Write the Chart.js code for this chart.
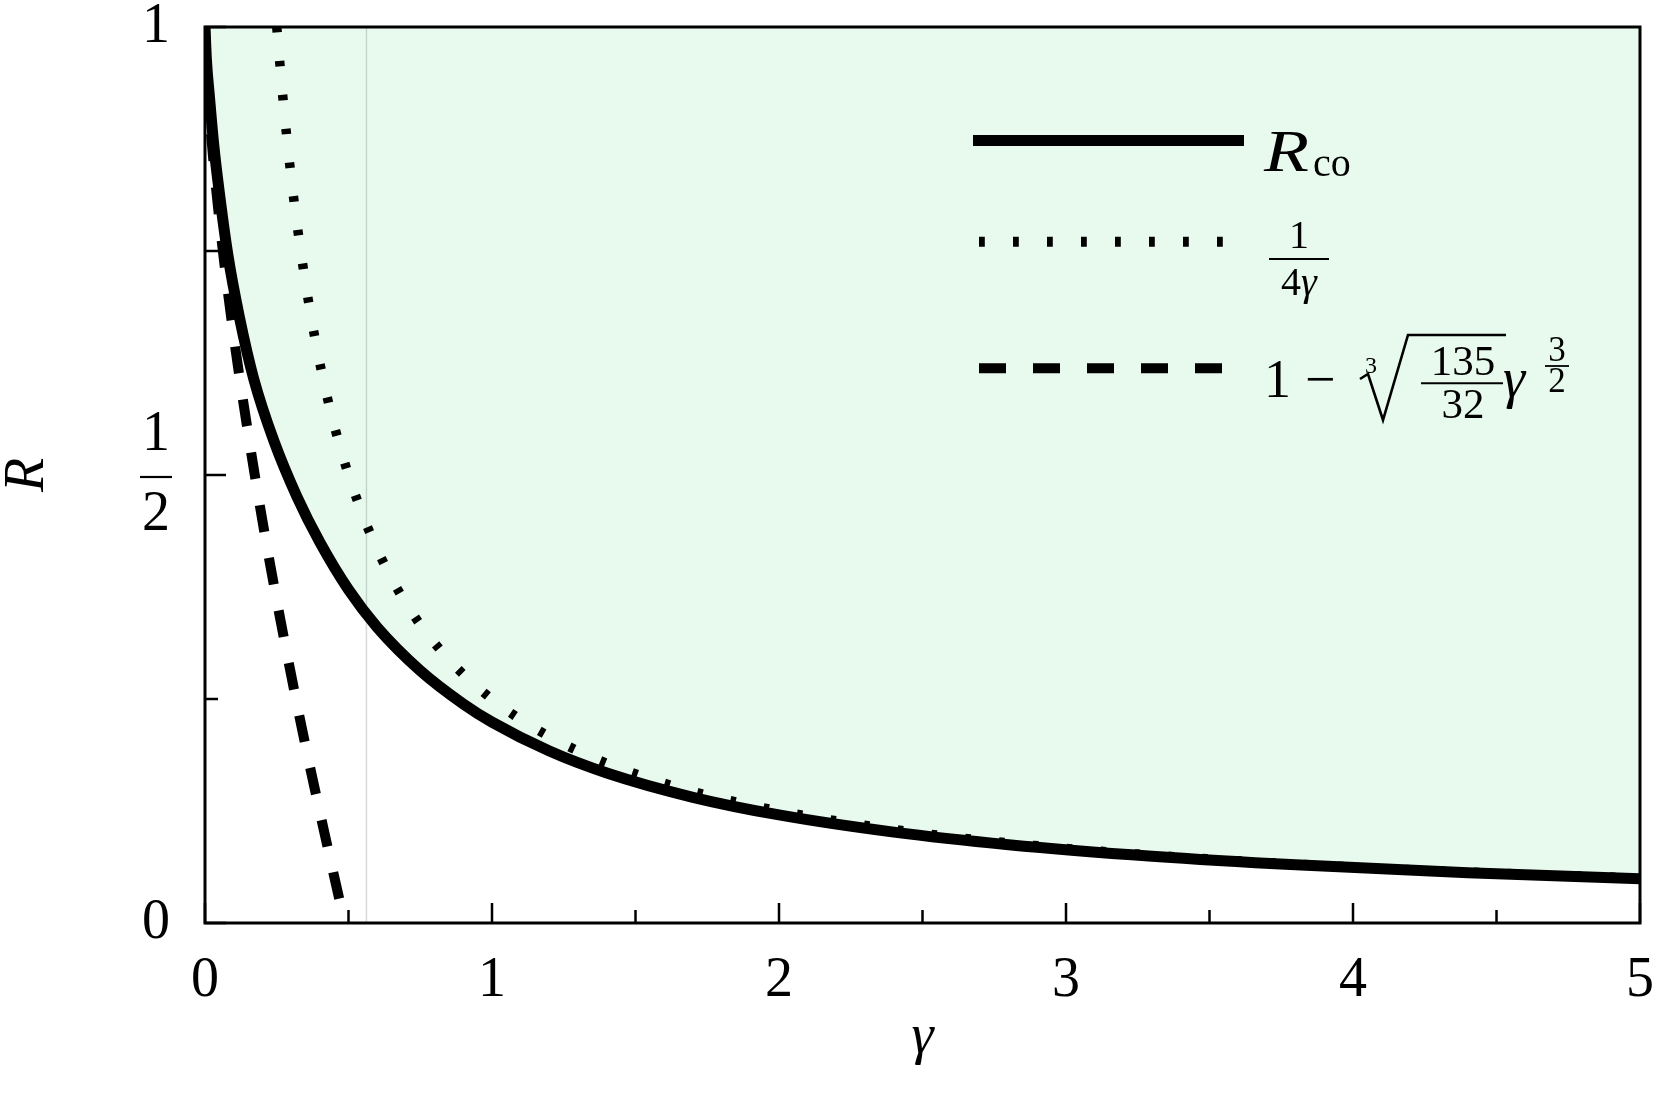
<!DOCTYPE html>
<html>
<head>
<meta charset="utf-8">
<title>R versus gamma</title>
<script src="https://cdn.jsdelivr.net/npm/chart.js@4.4.1/dist/chart.umd.min.js"></script>
<style>
  html, body { margin: 0; padding: 0; background: #fff; }
  #wrap { position: relative; width: 1661px; height: 1098px; }
  #chart_canvas { position: absolute; left: 0; top: 0; }
  #legend { position: absolute; left: 0; top: 0; pointer-events: none; }
  #legend text { font-family: "Liberation Serif", "Times New Roman", serif; fill: #000; }
</style>
</head>
<body>
<div id="wrap">
  <canvas id="chart_canvas" width="1661" height="1098"></canvas>
  <svg id="legend" width="1661" height="1098">
    <line x1="973" y1="140.5" x2="1244" y2="140.5" stroke="#000" stroke-width="11"/>
    <text x="1264" y="171" font-size="60" font-style="italic" textLength="45" lengthAdjust="spacingAndGlyphs">R</text>
    <text x="1313" y="176" font-size="40">co</text>

    <line x1="979" y1="241.7" x2="1226" y2="241.7" stroke="#000" stroke-width="10" stroke-dasharray="5.8 28.2"/>
    <text x="1299" y="248" font-size="40" text-anchor="middle">1</text>
    <line x1="1269" y1="259" x2="1329" y2="259" stroke="#000" stroke-width="2"/>
    <text x="1299" y="295" font-size="40" text-anchor="middle">4<tspan font-style="italic">γ</tspan></text>

    <line x1="979" y1="368.3" x2="1222" y2="368.3" stroke="#000" stroke-width="10" stroke-dasharray="27 27"/>
    <text x="1264" y="397" font-size="54">1</text>
    <text x="1305" y="397" font-size="54">−</text>
    <text x="1365" y="373" font-size="24">3</text>
    <path d="M1360 379 L1368 374 L1383 420 L1408 335 L1506 335" fill="none" stroke="#000" stroke-width="2.6"/>
    <text x="1463" y="375" font-size="43" text-anchor="middle">135</text>
    <line x1="1421" y1="383.3" x2="1503" y2="383.3" stroke="#000" stroke-width="2"/>
    <text x="1463" y="418" font-size="43" text-anchor="middle">32</text>
    <text x="1503" y="397" font-size="56" font-style="italic">γ</text>
    <text x="1557" y="361" font-size="35" text-anchor="middle">3</text>
    <line x1="1545" y1="366" x2="1569" y2="366" stroke="#000" stroke-width="1.8"/>
    <text x="1557" y="392" font-size="35" text-anchor="middle">2</text>
  </svg>
</div>
<script>
// crossover radius R_co
const gammaCo = [0, 0.005, 0.015, 0.03, 0.05, 0.08, 0.12, 0.17, 0.24, 0.32, 0.4, 0.5, 0.6, 0.75, 0.9, 1.0, 1.2, 1.4, 1.7, 2.0, 2.4, 2.8, 3.3, 3.8, 4.4, 5.0];
const rCo     = [1, 0.963, 0.924, 0.87, 0.815, 0.745, 0.676, 0.607, 0.538, 0.476, 0.425, 0.372, 0.33, 0.2817, 0.2445, 0.2242, 0.1919, 0.1674, 0.1403, 0.1206, 0.1014, 0.0874, 0.0745, 0.0649, 0.0562, 0.0495];

// 1/(4 gamma), dotted
const gammaInv = [0.25, 0.27, 0.3, 0.33, 0.37, 0.42, 0.48, 0.55, 0.63, 0.72, 0.83, 0.95, 1.1, 1.3, 1.55, 1.85, 2.2, 2.6, 3.1, 3.6, 4.2, 5.0];
const rInv     = [1.0, 0.926, 0.833, 0.758, 0.676, 0.595, 0.521, 0.455, 0.397, 0.347, 0.301, 0.263, 0.227, 0.192, 0.161, 0.135, 0.114, 0.0962, 0.0806, 0.0694, 0.0595, 0.05];

// small-gamma expansion, dashed
const gammaSmall = [0, 0.005, 0.02, 0.05, 0.1, 0.15, 0.2, 0.25, 0.3, 0.35, 0.4, 0.45, 0.487];
const rSmall     = [1, 0.955, 0.885, 0.785, 0.655, 0.547, 0.449, 0.36, 0.277, 0.198, 0.124, 0.052, 0];

const markerGamma = 0.5625;

const xMajorTicks = [0, 1, 2, 3, 4, 5];
const xMinorTicks = [0.5, 1.5, 2.5, 3.5, 4.5];
const yMajorTicks = [0, 0.5, 1];
const yMinorTicks = [0.25, 0.75];

const serif = '"Liberation Serif", "Times New Roman", serif';

function toPoints(xs, ys)
{
  return xs.map((x, i) => ({x: x, y: ys[i]}));
}

// inward ticks, plot frame and the bar of the 1/2 label
const frameAndTicks = {
  id: 'frameAndTicks',
  afterDatasetsDraw(chart)
  {
    const {ctx, chartArea: a, scales: {x, y}} = chart;
    ctx.save();
    ctx.strokeStyle = '#000';
    ctx.lineWidth = 2.5;
    ctx.beginPath();
    xMajorTicks.forEach(v => { const p = x.getPixelForValue(v); ctx.moveTo(p, a.bottom); ctx.lineTo(p, a.bottom - 20); });
    xMinorTicks.forEach(v => { const p = x.getPixelForValue(v); ctx.moveTo(p, a.bottom); ctx.lineTo(p, a.bottom - 13); });
    yMajorTicks.forEach(v => { const p = y.getPixelForValue(v); ctx.moveTo(a.left, p); ctx.lineTo(a.left + 21, p); });
    yMinorTicks.forEach(v => { const p = y.getPixelForValue(v); ctx.moveTo(a.left, p); ctx.lineTo(a.left + 13, p); });
    ctx.stroke();

    const fy = y.getPixelForValue(0.5) + 2;
    ctx.lineWidth = 2.2;
    ctx.beginPath();
    ctx.moveTo(a.left - 65, fy);
    ctx.lineTo(a.left - 33, fy);
    ctx.stroke();

    ctx.lineWidth = 3;
    ctx.strokeRect(a.left, a.top, a.right - a.left, a.bottom - a.top);
    ctx.restore();
  }
};

function noScalePadding(scale)
{
  scale.paddingTop = 0;
  scale.paddingBottom = 0;
  scale.paddingLeft = 0;
  scale.paddingRight = 0;
}

const config = {
  type: 'line',
  data: {
    datasets: [
      {
        label: 'Rco',
        data: toPoints(gammaCo, rCo),
        borderColor: '#000',
        borderWidth: 11,
        backgroundColor: '#e8faee',
        fill: 'end',
        pointRadius: 0,
        cubicInterpolationMode: 'monotone',
        clip: 0,
        order: 1
      },
      {
        label: '1/(4γ)',
        data: toPoints(gammaInv, rInv),
        borderColor: '#000',
        borderWidth: 9.5,
        borderDash: [5.5, 28.5],
        fill: false,
        pointRadius: 0,
        cubicInterpolationMode: 'monotone',
        clip: 0,
        order: 2
      },
      {
        label: 'small γ',
        data: toPoints(gammaSmall, rSmall),
        borderColor: '#000',
        borderWidth: 10,
        borderDash: [27, 26.5],
        fill: false,
        pointRadius: 0,
        cubicInterpolationMode: 'monotone',
        clip: 0,
        order: 3
      },
      {
        label: 'marker',
        data: [{x: markerGamma, y: 0}, {x: markerGamma, y: 1}],
        borderColor: 'rgba(0,0,0,0.15)',
        borderWidth: 1.5,
        fill: false,
        pointRadius: 0,
        clip: 0,
        order: 4
      }
    ]
  },
  options: {
    responsive: false,
    devicePixelRatio: 1,
    animation: false,
    layout: {autoPadding: false, padding: {left: 0, top: 27, right: 21, bottom: 0}},
    plugins: {
      legend: {display: false},
      tooltip: {enabled: false},
      filler: {drawTime: 'beforeDatasetsDraw'}
    },
    scales: {
      x: {
        type: 'linear',
        min: 0,
        max: 5,
        grid: {display: false},
        border: {display: false},
        ticks: {stepSize: 1, color: '#000', padding: 17, maxRotation: 0, font: {family: serif, size: 56}},
        title: {display: true, text: 'γ', color: '#000', padding: {top: 0, bottom: 32}, font: {family: serif, size: 56, style: 'italic', lineHeight: 1}},
        afterFit: (scale) => { scale.height = 175; noScalePadding(scale); }
      },
      y: {
        type: 'linear',
        min: 0,
        max: 1,
        grid: {display: false},
        border: {display: false},
        ticks: {
          stepSize: 0.5,
          color: '#000',
          padding: 27,
          callback: (v) => v === 0.5 ? ['1', '2'] : String(v),
          font: (ctx) => ({family: serif, size: 56, lineHeight: (ctx.tick && ctx.tick.value === 0.5) ? 1.43 : 1.2})
        },
        title: {display: true, text: 'R', color: '#000', padding: {top: 0, bottom: 0}, font: {family: serif, size: 56, style: 'italic', lineHeight: 1}},
        afterFit: (scale) => { scale.width = 205; noScalePadding(scale); }
      }
    }
  },
  plugins: [frameAndTicks]
};

const chart = new Chart(document.getElementById('chart_canvas'), config);
</script>
</body>
</html>
